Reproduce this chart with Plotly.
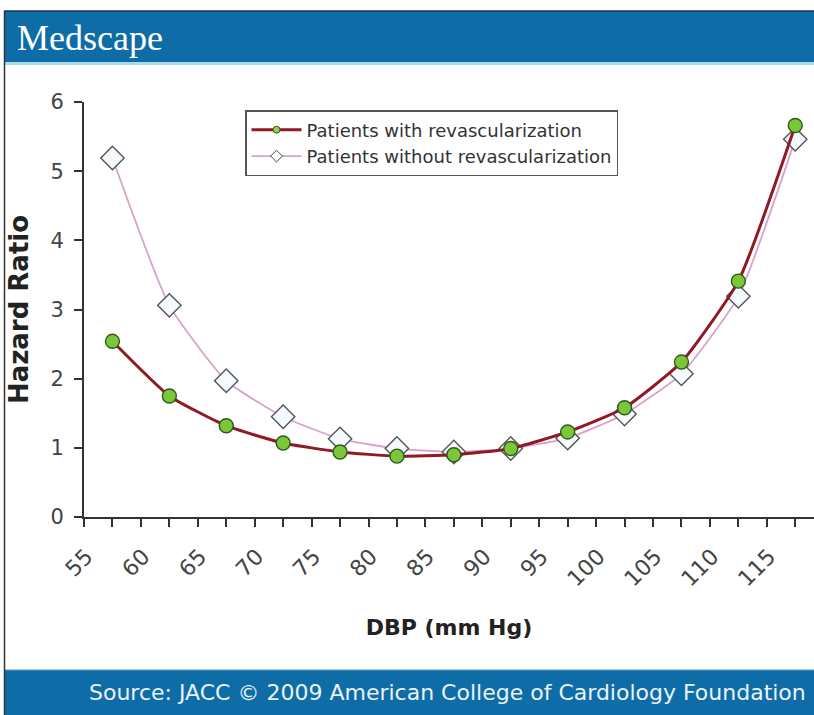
import plotly.graph_objects as go

# ---- data ----
dbp = [55, 60, 65, 70, 75, 80, 85, 90, 95, 100, 105, 110, 115]
hr_with = [2.54, 1.75, 1.32, 1.07, 0.94, 0.88, 0.90, 0.99, 1.23, 1.58, 2.24, 3.41, 5.66]
hr_without = [5.19, 3.06, 1.97, 1.45, 1.13, 0.99, 0.94, 0.99, 1.14, 1.49, 2.07, 3.19, 5.46]
y_ticks = [0, 1, 2, 3, 4, 5, 6]
name_with = "Patients with revascularization"
name_without = "Patients without revascularization"

W, H = 814, 715
L, R, T, B = 84, 0, 102, 198
PW, PH = W - L - R, H - T - B


def px(x):
    return (x - L) / PW


def py(y):
    return (H - B - y) / PH


FONT = "DejaVu Sans, Verdana, sans-serif"
BLUE = "#0E6DA6"

fig = go.Figure()

fig.add_trace(go.Scatter(
    x=dbp, y=hr_without, mode="lines+markers", showlegend=False,
    line=dict(color="#D8A2CC", width=1.8, shape="spline", smoothing=0.5),
    marker=dict(symbol="diamond", size=18, color="#F4FAFD",
                line=dict(color="#555555", width=1.4)),
))
fig.add_trace(go.Scatter(
    x=dbp, y=hr_with, mode="lines+markers", showlegend=False,
    line=dict(color="#8E1A24", width=3, shape="spline", smoothing=0.5),
    marker=dict(symbol="circle", size=14, color="#7CC63A",
                line=dict(color="#2E5A1A", width=1.4)),
))
# legend entries
fig.add_trace(go.Scatter(
    x=[None], y=[None], mode="lines+markers", name=name_with,
    line=dict(color="#8E1A24", width=3),
    marker=dict(symbol="circle", size=7, color="#9CCB5A",
                line=dict(color="#2E5A1A", width=1)),
))
fig.add_trace(go.Scatter(
    x=[None], y=[None], mode="lines+markers", name=name_without,
    line=dict(color="#D8A2CC", width=1.8),
    marker=dict(symbol="diamond", size=9, color="#FFFFFF",
                line=dict(color="#444444", width=1)),
))

shapes = [
    # header band
    dict(type="rect", xref="paper", yref="paper", x0=px(4), x1=px(W + 2),
         y0=py(62), y1=py(11), fillcolor=BLUE, line=dict(width=0), layer="below"),
    dict(type="line", xref="paper", yref="paper", x0=px(4), x1=px(W + 2),
         y0=py(11), y1=py(11), line=dict(color="#1B3550", width=1.5)),
    dict(type="line", xref="paper", yref="paper", x0=px(4), x1=px(W + 2),
         y0=py(63.5), y1=py(63.5), line=dict(color="#A9DCEB", width=3)),
    # footer band
    dict(type="rect", xref="paper", yref="paper", x0=px(4), x1=px(W + 2),
         y0=py(H + 2), y1=py(670), fillcolor=BLUE, line=dict(width=0), layer="below"),
    dict(type="line", xref="paper", yref="paper", x0=px(4), x1=px(W + 2),
         y0=py(670), y1=py(670), line=dict(color="#5E9CC4", width=1)),
    # left frame line
    dict(type="line", xref="paper", yref="paper", x0=px(4.5), x1=px(4.5),
         y0=py(11), y1=py(H + 2), line=dict(color="#333333", width=1.5)),
]

annotations = [
    dict(text="Medscape", xref="paper", yref="paper", x=px(15), y=py(38),
         xanchor="left", yanchor="middle", showarrow=False,
         font=dict(family="Liberation Serif, Times New Roman, serif", size=36, color="#FFFFFF")),
    dict(text="Source: JACC © 2009 American College of Cardiology Foundation",
         xref="paper", yref="paper", x=px(87), y=py(692), xanchor="left", yanchor="middle",
         showarrow=False, font=dict(family=FONT, size=22, color="#EAF2F8")),
]

fig.update_layout(
    width=W, height=H,
    margin=dict(l=L, r=R, t=T, b=B, autoexpand=False),
    paper_bgcolor="#FFFFFF", plot_bgcolor="#FFFFFF",
    font=dict(family=FONT, color="#333333"),
    shapes=shapes, annotations=annotations,
    legend=dict(x=px(245), y=py(110), xanchor="left", yanchor="top",
                bgcolor="#FFFFFF", bordercolor="#555555", borderwidth=1.5,
                font=dict(size=18, color="#333333"), tracegroupgap=0,
                itemwidth=50),
    xaxis=dict(
        range=[52.5, 52.5 + PW / (56.9 / 5)],
        tickmode="array", tickvals=dbp, ticktext=[str(v) for v in dbp],
        tickangle=-45, ticks="outside", ticklen=8, tickwidth=1.5, tickcolor="#333333",
        tickfont=dict(size=22, color="#444444"),
        minor=dict(ticks="outside", dtick=2.5, tick0=52.5, ticklen=8, tickwidth=1.5,
                   tickcolor="#333333", showgrid=False),
        showline=True, linecolor="#333333", linewidth=2,
        showgrid=False, zeroline=False,
        ticklabelshift=-26, ticklabelstandoff=8,
        title=dict(text="<b>DBP (mm Hg)</b>", font=dict(size=22, color="#222222"), standoff=29),
    ),
    yaxis=dict(
        range=[0, 6], tickmode="array", tickvals=y_ticks,
        ticks="outside", ticklen=8, tickwidth=1.5, tickcolor="#333333",
        tickfont=dict(size=21, color="#444444"),
        showline=True, linecolor="#333333", linewidth=2,
        showgrid=False, zeroline=False, ticklabelstandoff=6,
        title=dict(text="<b>Hazard Ratio</b>", font=dict(size=26, color="#222222"), standoff=14),
    ),
)

fig.write_html("out.html", config={"displayModeBar": False},
               post_script="document.body.style.margin='0';document.body.style.overflow='hidden';")
